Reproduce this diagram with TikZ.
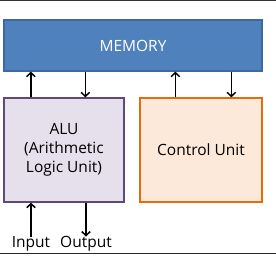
\documentclass[tikz,border=0pt]{standalone}
\usepackage{fontspec}
\setmainfont{Open Sans}
\usetikzlibrary{arrows.meta}
\usetikzlibrary{calc}
\definecolor{memblue}{RGB}{79,129,189}
\definecolor{memedge}{RGB}{62,105,158}
\definecolor{alufill}{RGB}{229,224,236}
\definecolor{aluedge}{RGB}{96,73,122}
\definecolor{cufill}{RGB}{253,233,217}
\definecolor{cuedge}{RGB}{228,108,10}
\tikzset{
  unit/.style = {draw, line width=1.3pt, inner sep=0pt, align=center, font=\fontsize{15.5}{19}\selectfont},
  link/.style = {black, line width=1.5pt, >={Straight Barb[length=4pt,width=8.5pt]}},
  lbl/.style  = {font=\fontsize{15.5}{18}\selectfont, inner sep=1pt}
}

\begin{document}
\begin{tikzpicture}[x=1pt, y=-1pt]
    \useasboundingbox (0,0) rectangle (276,260);
    \draw[black!80, line width=1pt] (0,0.5)--(276,0.5);
    \draw[black!85, line width=1.6pt] (0,253.5)--(276,253.5);
    % boxes
    \node[unit, fill=memblue, draw=memedge, text=white, minimum width=258pt, minimum height=51pt] (memory) at (133,45.5) {MEMORY};
    \node[unit, fill=alufill, draw=aluedge, minimum width=120pt, minimum height=104pt] (alu) at (64,150) {ALU\\(Arithmetic\\Logic Unit)};
    \node[unit, fill=cufill, draw=cuedge, minimum width=122pt, minimum height=104pt] (cu) at (201,150) {Control Unit};
    % memory links
    \draw[link,->] ([xshift=27.5pt]alu.north west) -- ([xshift=27.5pt]alu.north west |- memory.south);
    \draw[link,->] ([xshift=82pt]alu.north west |- memory.south) -- ([xshift=82pt]alu.north west);
    \draw[link,->] ([xshift=36pt]cu.north west) -- ([xshift=36pt]cu.north west |- memory.south);
    \draw[link,->] ([xshift=92pt]cu.north west |- memory.south) -- ([xshift=92pt]cu.north west);
    % input / output
    \node[lbl, anchor=base] (input) at (31,247) {Input};
    \node[lbl, anchor=base] (output) at (86,247) {Output};
    \draw[link,->] ([yshift=-2pt]input.north) -- (input |- alu.south);
    \draw[link,->] (output |- alu.south) -- ([yshift=-2pt]output.north);
\end{tikzpicture}
\end{document}
